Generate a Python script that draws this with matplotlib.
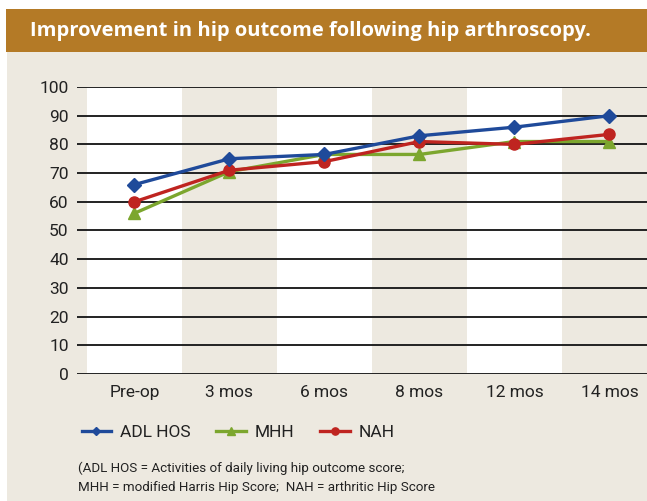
import matplotlib
matplotlib.use('Agg')
import matplotlib.pyplot as plt
from matplotlib.patches import Rectangle

# Datos
categorias = ['Pre-op', '3 mos', '6 mos', '8 mos', '12 mos', '14 mos']
adl_hos = [66, 75, 76.5, 83, 86, 90]
mhh = [56, 70.5, 76.5, 76.5, 81, 81]
nah = [60, 71, 74, 81, 80, 83.5]

W, H = 647, 501
fondo = '#EDE9E0'
banda = '#B47A26'

plt.rcParams['font.family'] = ['Roboto', 'DejaVu Sans']

fig = plt.figure(figsize=(W / 100, H / 100), dpi=100)
fig.patch.set_facecolor('white')

# Panel beige y franja del título
fig.patches.append(Rectangle((7 / W, 0), 1, 449 / H, transform=fig.transFigure,
                             facecolor=fondo, edgecolor='none', zorder=-2))
fig.patches.append(Rectangle((6 / W, 449 / H), 1, 43 / H, transform=fig.transFigure,
                             facecolor=banda, edgecolor='none', zorder=-2))
fig.text(30 / W, 470 / H, 'Improvement in hip outcome following hip arthroscopy.',
         color='white', fontsize=14.5, fontweight='bold', va='center', ha='left',
         family=['Open Sans', 'DejaVu Sans'])

# Ejes: x de 77 a 657 px, y de 374 a 87 px
ax = fig.add_axes([77 / W, (H - 374) / H, 580 / W, 287 / H])
ax.set_facecolor('none')
x = list(range(len(categorias)))
ax.set_xlim(-0.605, 5.5)
ax.set_ylim(0, 100)

for i in x:
    ax.axvspan(i - 0.5, i + 0.5, color='white' if i % 2 == 0 else fondo, zorder=0, lw=0)
for v in range(0, 101, 10):
    ax.axhline(v, color='#222222', lw=1.4, zorder=1)

ax.plot(x, adl_hos, color='#1F4A9A', marker='D', ms=7, lw=2.4, label='ADL HOS', zorder=4)
ax.plot(x, mhh, color='#7CA62E', marker='^', ms=8, lw=2.4, label='MHH', zorder=3)
ax.plot(x, nah, color='#BF2420', marker='o', ms=8, lw=2.4, label='NAH', zorder=3)

ax.set_xticks(x)
ax.set_xticklabels(categorias)
ax.set_yticks(range(0, 101, 10))
ax.tick_params(length=0, labelsize=12.5, colors='#222222')
ax.tick_params(axis='y', pad=6)
ax.tick_params(axis='x', pad=8)
for s in ax.spines.values():
    s.set_visible(False)

fig.legend(loc='center left', bbox_to_anchor=(66 / W, (H - 432) / H), ncol=3,
           frameon=False, fontsize=12.5, markerscale=0.65, handlelength=1.7,
           columnspacing=1.5, handletextpad=0.5, labelcolor='#222222')

fig.text(78 / W, (H - 468) / H, '(ADL HOS = Activities of daily living hip outcome score;',
         fontsize=9.6, color='#222222', va='center')
fig.text(78 / W, (H - 487) / H, 'MHH = modified Harris Hip Score;  NAH = arthritic Hip Score',
         fontsize=9.6, color='#222222', va='center')

fig.savefig('out.png', dpi=100)
